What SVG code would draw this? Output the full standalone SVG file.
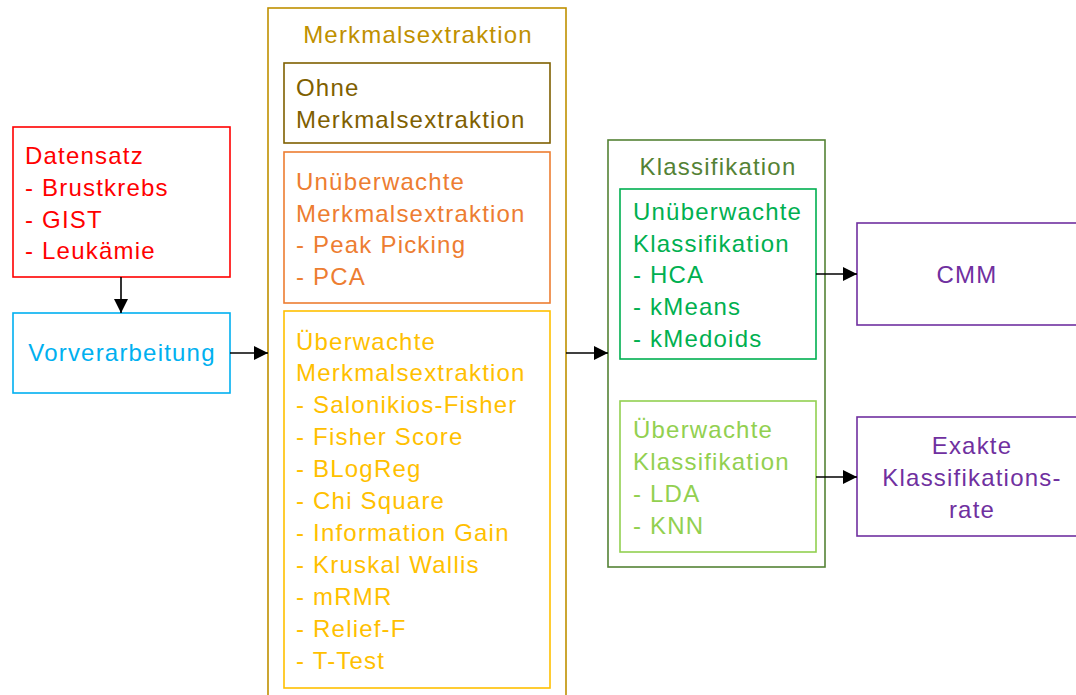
<svg xmlns="http://www.w3.org/2000/svg" width="1076" height="695" viewBox="0 0 1076 695">
<defs>
<marker id="ah" markerWidth="14" markerHeight="14" refX="14" refY="7" orient="auto" markerUnits="userSpaceOnUse"><path d="M0,0 L14,7 L0,14 Z" fill="#000"/></marker>
<style>
rect{fill:#fff;stroke-width:1.6}
text{font-family:"Liberation Sans",Arial,sans-serif;font-size:24px;letter-spacing:1.2px}
.c{text-anchor:middle}
.e{stroke:#000;stroke-width:1.6;fill:none;marker-end:url(#ah)}
</style>
</defs>
<rect width="1076" height="695" fill="#fff" stroke="none"/>
<g id="datensatz"><rect x="13" y="127" width="217" height="150" stroke="#FF0000"/>
<text fill="#FF0000"><tspan x="25" y="164">Datensatz</tspan><tspan x="25" y="196">- Brustkrebs</tspan><tspan x="25" y="228">- GIST</tspan><tspan x="25" y="259">- Leukämie</tspan></text></g>
<g id="vorverarbeitung"><rect x="13" y="313" width="217" height="80" stroke="#00B0F0"/>
<text class="c" fill="#00B0F0" x="122" y="361">Vorverarbeitung</text></g>
<g id="merkmalsextraktion"><rect x="268" y="8" width="298" height="700" stroke="#BF9000"/>
<text class="c" fill="#BF9000" x="418" y="43">Merkmalsextraktion</text></g>
<g id="ohne"><rect x="284" y="63" width="266" height="80" stroke="#7F6000"/>
<text fill="#7F6000"><tspan x="296" y="96">Ohne</tspan><tspan x="296" y="128">Merkmalsextraktion</tspan></text></g>
<g id="unueberwachte-me"><rect x="284" y="152" width="266" height="151" stroke="#ED7D31"/>
<text fill="#ED7D31"><tspan x="296" y="190">Unüberwachte</tspan><tspan x="296" y="222">Merkmalsextraktion</tspan><tspan x="296" y="253">- Peak Picking</tspan><tspan x="296" y="285">- PCA</tspan></text></g>
<g id="ueberwachte-me"><rect x="284" y="311" width="266" height="377" stroke="#FFC000"/>
<text fill="#FFC000"><tspan x="296" y="350">Überwachte</tspan><tspan x="296" y="381">Merkmalsextraktion</tspan><tspan x="296" y="413">- Salonikios-Fisher</tspan><tspan x="296" y="445">- Fisher Score</tspan><tspan x="296" y="477">- BLogReg</tspan><tspan x="296" y="509">- Chi Square</tspan><tspan x="296" y="541">- Information Gain</tspan><tspan x="296" y="573">- Kruskal Wallis</tspan><tspan x="296" y="605">- mRMR</tspan><tspan x="296" y="637">- Relief-F</tspan><tspan x="296" y="669">- T-Test</tspan></text></g>
<g id="klassifikation"><rect x="608" y="140" width="217" height="427" stroke="#548235"/>
<text class="c" fill="#548235" x="718" y="175">Klassifikation</text></g>
<g id="unueberwachte-kl"><rect x="620" y="189" width="196" height="170" stroke="#00B050"/>
<text fill="#00B050"><tspan x="633" y="220">Unüberwachte</tspan><tspan x="633" y="252">Klassifikation</tspan><tspan x="633" y="283">- HCA</tspan><tspan x="633" y="315">- kMeans</tspan><tspan x="633" y="347">- kMedoids</tspan></text></g>
<g id="ueberwachte-kl"><rect x="620" y="401" width="196" height="151" stroke="#92D050"/>
<text fill="#92D050"><tspan x="633" y="438">Überwachte</tspan><tspan x="633" y="470">Klassifikation</tspan><tspan x="633" y="502">- LDA</tspan><tspan x="633" y="534">- KNN</tspan></text></g>
<g id="cmm"><rect x="857" y="223" width="220" height="102" stroke="#7030A0"/>
<text class="c" fill="#7030A0" x="967" y="283">CMM</text></g>
<g id="exakte"><rect x="857" y="417" width="220" height="119" stroke="#7030A0"/>
<text class="c" fill="#7030A0"><tspan x="972" y="454">Exakte</tspan><tspan x="972" y="486">Klassifikations-</tspan><tspan x="972" y="518">rate</tspan></text></g>
<g id="connectors">
<line class="e" x1="121" y1="277" x2="121" y2="313"/>
<line class="e" x1="230" y1="353" x2="268" y2="353"/>
<line class="e" x1="566" y1="353" x2="608" y2="353"/>
<line class="e" x1="816" y1="274" x2="857" y2="274"/>
<line class="e" x1="816" y1="477" x2="857" y2="477"/>
</g>
</svg>
